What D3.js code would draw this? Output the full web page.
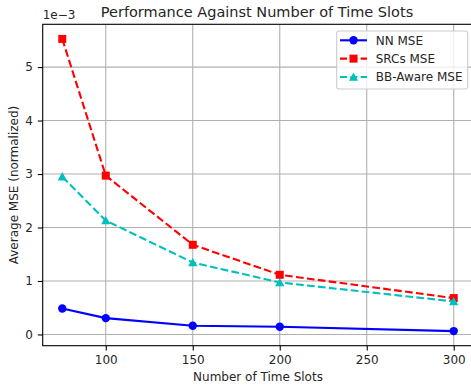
<!DOCTYPE html>
<html>
<head>
<meta charset="utf-8">
<script src="https://cdn.jsdelivr.net/npm/d3@7"></script>
<style>
  body { margin: 0; background: #fff; }
  text { font-family: "DejaVu Sans", sans-serif; fill: #262626; }
</style>
</head>
<body>
<div id="chart"></div>
<script>
// time slots on the x axis
const slots = [75, 100, 150, 200, 300];
// MSE values, in units of 1e-3
const nnMse = [0.486, 0.306, 0.163, 0.144, 0.063];
const srcMse = [5.527, 2.97, 1.677, 1.116, 0.68];
const bbMse = [2.95, 2.13, 1.346, 0.972, 0.617];
const xTicks = [100, 150, 200, 250, 300];
const yTicks = [0, 1, 2, 3, 4, 5];

const WIDTH = 471;
const HEIGHT = 387;
const margin = { left: 42.7, top: 24.3, right: 473.3, bottom: 345.7 };
const FONT = "12px";

const series = [
    { name: "NN MSE", values: nnMse, color: "#0000ff", dash: null, marker: "circle" },
    { name: "SRCs MSE", values: srcMse, color: "#ff0000", dash: "7.7,3.3", marker: "square" },
    { name: "BB-Aware MSE", values: bbMse, color: "#00bfbf", dash: "7.7,3.3", marker: "triangle" }
];

const svg = d3.select("#chart").append("svg")
    .attr("width", WIDTH)
    .attr("height", HEIGHT);

const x = d3.scaleLinear().domain([63.75, 311.25]).range([margin.left, margin.right]);
const y = d3.scaleLinear().domain([-0.2102, 5.8002]).range([margin.bottom, margin.top]);

// grid lines
svg.append("g").selectAll("line").data(xTicks).enter().append("line")
    .attr("x1", d => x(d)).attr("x2", d => x(d))
    .attr("y1", margin.top).attr("y2", margin.bottom)
    .attr("stroke", "#b0b0b0").attr("stroke-width", 1.1);
svg.append("g").selectAll("line").data(yTicks).enter().append("line")
    .attr("x1", margin.left).attr("x2", margin.right)
    .attr("y1", d => y(d)).attr("y2", d => y(d))
    .attr("stroke", "#b0b0b0").attr("stroke-width", 1.1);

// axes
const xAxis = svg.append("g")
    .attr("transform", "translate(0," + margin.bottom + ")")
    .call(d3.axisBottom(x).tickValues(xTicks).tickFormat(d3.format("d")).tickSize(4.9).tickPadding(4.9));
const yAxis = svg.append("g")
    .attr("transform", "translate(" + margin.left + ",0)")
    .call(d3.axisLeft(y).tickValues(yTicks).tickFormat(d3.format("d")).tickSize(4.9).tickPadding(4.9));
[xAxis, yAxis].forEach(function (ax) {
    ax.select(".domain").remove();
    ax.selectAll("line").attr("stroke", "#000").attr("stroke-width", 1.1);
    ax.selectAll("text").attr("font-size", FONT).attr("font-family", "DejaVu Sans").attr("fill", "#262626");
});

// frame
svg.append("rect")
    .attr("x", margin.left).attr("y", margin.top)
    .attr("width", margin.right - margin.left).attr("height", margin.bottom - margin.top)
    .attr("fill", "none").attr("stroke", "#000").attr("stroke-width", 1.1);

function drawMarker(g, type, cx, cy, color) {
    if (type === "circle") {
        g.append("circle").attr("cx", cx).attr("cy", cy).attr("r", 4.2).attr("fill", color);
    } else if (type === "square") {
        g.append("rect").attr("x", cx - 4).attr("y", cy - 4).attr("width", 8).attr("height", 8).attr("fill", color);
    } else {
        const s = 4.6;
        g.append("path")
            .attr("d", "M" + cx + "," + (cy - s) + "L" + (cx + s) + "," + (cy + s * 0.8) + "L" + (cx - s) + "," + (cy + s * 0.8) + "Z")
            .attr("fill", color);
    }
}

const line = d3.line().x(d => x(d[0])).y(d => y(d[1]));

series.forEach(function (s) {
    const pts = slots.map((t, i) => [t, s.values[i]]);
    const g = svg.append("g");
    g.append("path")
        .attr("d", line(pts))
        .attr("fill", "none")
        .attr("stroke", s.color)
        .attr("stroke-width", 2.1)
        .attr("stroke-dasharray", s.dash);
    pts.forEach(p => drawMarker(g, s.marker, x(p[0]), y(p[1]), s.color));
});

// legend
const legend = svg.append("g");
legend.append("rect")
    .attr("x", 336.7).attr("y", 31).attr("width", 131).attr("height", 58).attr("rx", 2.5)
    .attr("fill", "#fff").attr("fill-opacity", 0.8).attr("stroke", "#cccccc").attr("stroke-width", 1.1);
series.forEach(function (s, i) {
    const ly = 40.3 + i * 18.35;
    legend.append("line")
        .attr("x1", 340).attr("x2", 367).attr("y1", ly).attr("y2", ly)
        .attr("stroke", s.color).attr("stroke-width", 2.1)
        .attr("stroke-dasharray", s.dash ? "7,3.3" : null);
    drawMarker(legend, s.marker, 353.5, ly, s.color);
    legend.append("text")
        .attr("x", 375.7).attr("y", ly).attr("dy", "0.36em")
        .attr("font-size", FONT).text(s.name);
});

// labels
svg.append("text")
    .attr("x", 257).attr("y", 17)
    .attr("text-anchor", "middle").attr("font-size", "14.5px")
    .text("Performance Against Number of Time Slots");
svg.append("text")
    .attr("x", 258).attr("y", 381)
    .attr("text-anchor", "middle").attr("font-size", FONT)
    .text("Number of Time Slots");
svg.append("text")
    .attr("transform", "translate(18," + (margin.top + margin.bottom) / 2 + ") rotate(-90)")
    .attr("text-anchor", "middle").attr("font-size", FONT)
    .text("Average MSE (normalized)");
svg.append("text")
    .attr("x", margin.left).attr("y", 19)
    .attr("font-size", FONT)
    .text("1e\u22123");
</script>
</body>
</html>
